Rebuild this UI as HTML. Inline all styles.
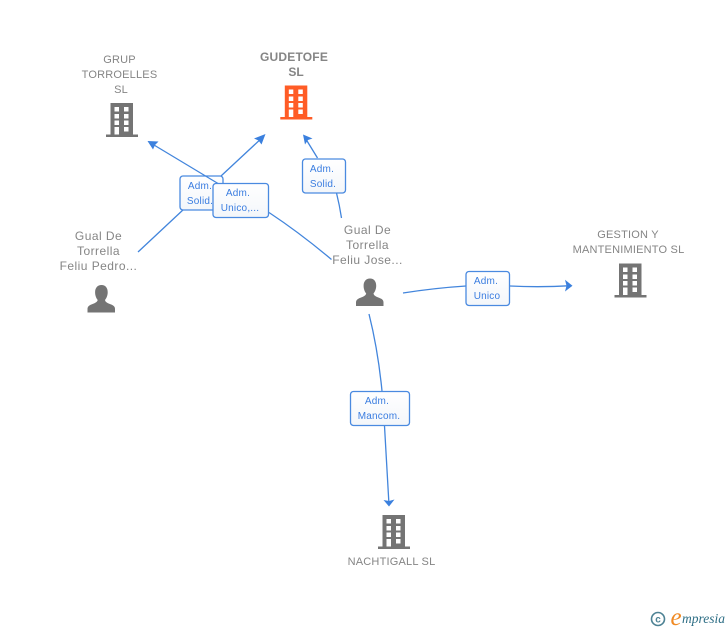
<!DOCTYPE html>
<html><head><meta charset="utf-8"><style>
html,body{margin:0;padding:0;background:#fff;width:728px;height:630px;overflow:hidden}
svg{display:block;filter:blur(.25px)}
text{font-family:"Liberation Sans",sans-serif}
.n{font-size:11px;fill:#858585;text-anchor:middle;letter-spacing:.2px}
.p{font-size:12px;fill:#858585;text-anchor:middle;letter-spacing:.45px}
.b{font-size:10px;fill:#3a7de0;text-anchor:middle;letter-spacing:.2px}
.l{fill:none;stroke:#4285dc;stroke-width:1.3}
.r{fill:url(#g);stroke:#4a8ae0;stroke-width:1.3}
.a{fill:#3b80de}
</style></head><body>
<svg width="728" height="630" viewBox="0 0 728 630" xmlns="http://www.w3.org/2000/svg">
<defs>
<linearGradient id="g" x1="0" y1="0" x2="0" y2="1"><stop offset="0" stop-color="#fff"/><stop offset="1" stop-color="#f3f6fa"/></linearGradient>
<symbol id="bld" width="32" height="34" viewBox="0 0 32 34" overflow="visible">
<path fill-rule="evenodd" fill="currentColor" d="M4.5 0H27V31.5H32V34H0V31.5H4.5ZM8.5 4V8.5H13V4ZM18 4V8.5H22.5V4ZM8.5 11V15.5H13V11ZM18 11V15.5H22.5V11ZM8.5 17.5V22H13V17.5ZM18 17.5V22H22.5V17.5ZM8.5 24V31.5H13V24ZM18 24V28.5H22.5V24Z"/>
</symbol>
<symbol id="per" width="28" height="28" viewBox="0 0 28 28" overflow="visible">
<path fill="#747474" d="M14 0C18 0 20.2 3 20.2 7.2C20.2 10.5 19 13 17.5 15C18 17.5 20.5 18.2 23 19.2C26 20.3 27.5 21.5 27.5 24V27.5H0V24C0 21.5 1.5 20.3 4.5 19.2C7 18.2 9.5 17.5 10.2 15C8.7 13 7.6 10.5 7.6 7.2C7.6 3 10 0 14 0Z"/>
</symbol>
</defs>

<!-- connectors -->
<path class="l" d="M138 252 L184 209 M221 176 L264 136"/>
<path class="a" d="M265.5 134 L261.5 144.5 L258.5 140.5 L254 138.5Z"/>
<path class="l" d="M331.5 259.5 Q300 233 269 212.5"/>
<path class="a" d="M147.5 141 L158.5 141.5 L155 145 L153 149.5Z"/>
<path class="l" d="M341.5 218 Q339.5 205 336.5 193 M317.5 158 L304 136"/>
<path class="a" d="M303 134.5 L312.5 138.5 L308 140 L305 144.5Z"/>
<path class="l" d="M403 293 Q435 288 466 286 M510 286 Q540 287.5 571 285.7"/>
<path class="a" d="M572.5 285.7 L565 279.8 L566.5 285.7 L565 291.5Z"/>
<path class="l" d="M369 314 Q378 350 382 391 M384.5 426 L389 505"/>
<path class="a" d="M389 506.5 L394.5 499.5 L389 501 L383.5 500Z"/>

<!-- edge labels -->
<rect class="r" x="180" y="176" width="43" height="34" rx="3"/>
<text class="b" x="200" y="189">Adm.</text><text class="b" x="200" y="204">Solid.</text>
<path class="l" d="M218 183.5 L149 142"/>
<rect class="r" x="213" y="183.5" width="55.5" height="34" rx="3"/>
<text class="b" x="238" y="196">Adm.</text><text class="b" x="240" y="211">Unico,...</text>
<rect class="r" x="302.5" y="159" width="43" height="34" rx="3"/>
<text class="b" x="322" y="172">Adm.</text><text class="b" x="323" y="187">Solid.</text>
<rect class="r" x="466" y="271.5" width="43.5" height="34" rx="3"/>
<text class="b" x="486" y="284">Adm.</text><text class="b" x="487" y="299">Unico</text>
<rect class="r" x="350.5" y="391.5" width="59" height="34" rx="3"/>
<text class="b" x="377" y="404">Adm.</text><text class="b" x="379" y="419">Mancom.</text>

<!-- icons -->
<use href="#bld" x="106" y="103" color="#747474"/>
<use href="#bld" x="280.3" y="85.5" color="#ff5c26"/>
<use href="#bld" x="614.5" y="263.5" color="#747474"/>
<use href="#bld" x="378" y="515" color="#747474"/>
<use href="#per" x="87.5" y="285"/>
<use href="#per" x="356" y="278.5"/>

<!-- node labels -->
<text class="n" x="119.5" y="63">GRUP</text>
<text class="n" x="119.5" y="78">TORROELLES</text>
<text class="n" x="121" y="93">SL</text>
<text x="294" y="61" style="font-size:12px;font-weight:bold;fill:#858585;text-anchor:middle;letter-spacing:.2px">GUDETOFE</text>
<text x="296" y="76" style="font-size:12px;font-weight:bold;fill:#858585;text-anchor:middle">SL</text>
<text class="p" x="98.5" y="240">Gual De</text>
<text class="p" x="98.5" y="255">Torrella</text>
<text class="p" x="98.5" y="270">Feliu Pedro...</text>
<text class="p" x="367.5" y="234">Gual De</text>
<text class="p" x="367.5" y="249">Torrella</text>
<text class="p" x="367.5" y="264">Feliu Jose...</text>
<text class="n" x="628" y="238">GESTION Y</text>
<text class="n" x="628.5" y="253">MANTENIMIENTO SL</text>
<text class="n" x="391.5" y="565">NACHTIGALL SL</text>

<!-- logo -->
<circle cx="658" cy="619" r="6.5" fill="none" stroke="#4d8294" stroke-width="1.6"/>
<text x="658" y="622.5" style="font-size:10px;font-weight:bold;fill:#4d8294;text-anchor:middle">c</text>
<text x="670.5" y="625" style="font-family:'Liberation Serif',serif;font-style:italic;font-size:25px;fill:#f08a24">e</text>
<text x="682" y="623" style="font-family:'Liberation Serif',serif;font-style:italic;font-size:13.5px;fill:#2f6f86">mpresia</text>
</svg>
</body></html>
